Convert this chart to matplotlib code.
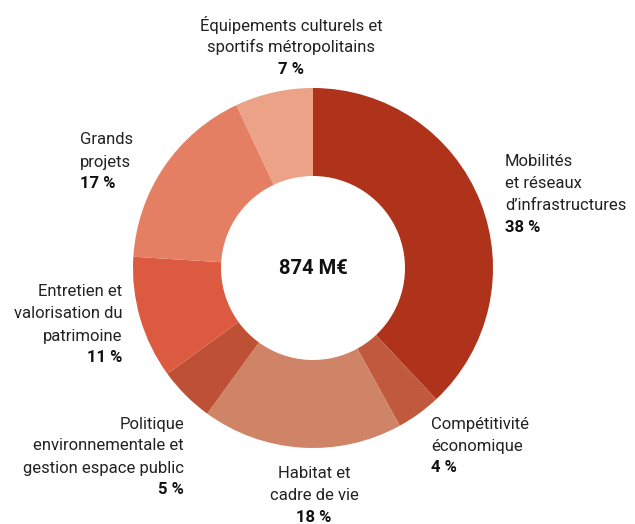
import matplotlib.pyplot as plt

plt.rcParams['font.family'] = ['Roboto', 'DejaVu Sans']

# Data
categories = ["Mobilités\net réseaux\nd’infrastructures",
              "Compétitivité\néconomique",
              "Habitat et\ncadre de vie",
              "Politique\nenvironnementale et\ngestion espace public",
              "Entretien et\nvalorisation du\npatrimoine",
              "Grands\nprojets",
              "Équipements culturels et\nsportifs métropolitains"]
shares = [38, 4, 18, 5, 11, 17, 7]
colors = ["#AE331A", "#C15A3D", "#CF8467", "#BE5036", "#DC5B40", "#E47F64", "#EBA287"]
total_label = "874 M€"

# label anchor (pixels from top-left), alignment
label_pos = [(505, 162, "left"), (431, 424, "left"), (314, 473, "center"),
             (184, 424, "right"), (122, 292, "right"), (80, 140, "left"),
             (291, 25, "center")]

W, H = 635, 524
fig = plt.figure(figsize=(W / 100, H / 100), dpi=100)
ax = fig.add_axes([0, 0, 1, 1])

cx, cy = 313, H - 268
ax.pie(shares, colors=colors, startangle=90, counterclock=False,
       radius=180, center=(cx, cy), wedgeprops=dict(width=88, linewidth=0),
       frame=True)
ax.set_xlim(0, W)
ax.set_ylim(0, H)
ax.set_aspect('equal')
ax.axis('off')

ax.text(cx, cy, total_label, ha='center', va='center', fontsize=14.5,
        fontweight='bold', color='#111111')

line_h = 22
for name, val, (x, y, ha) in zip(categories, shares, label_pos):
    lines = name.split("\n")
    for i, ln in enumerate(lines):
        ax.text(x, H - (y + i * line_h), ln, ha=ha, va='center',
                fontsize=12, color='#222222')
    ax.text(x, H - (y + len(lines) * line_h), f"{val} %", ha=ha,
            va='center', fontsize=12, fontweight='bold', color='#111111')

plt.savefig("out.png", dpi=100)
